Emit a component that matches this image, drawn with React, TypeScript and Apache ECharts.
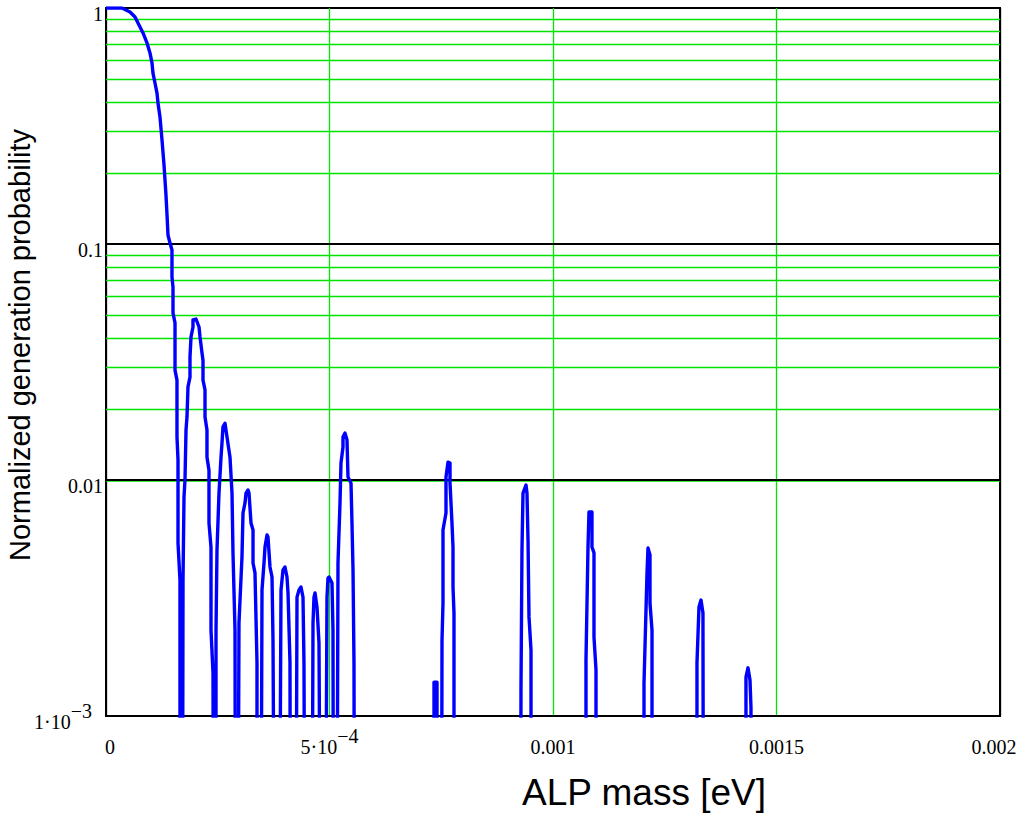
import React, { useEffect, useRef } from 'react';
import * as echarts from 'echarts';

// ALP mass in units of 1e-4 eV, normalized generation probability.
// 1e-5 marks points that fall below the plotted floor (near-zero probability).
const mainLobe: [number, number][] = [
  [0, 1], [0.358, 1], [0.537, 0.962], [0.649, 0.916], [0.761, 0.831], [0.828, 0.784],
  [0.917, 0.711], [0.984, 0.645], [1.029, 0.585], [1.051, 0.53], [1.096, 0.481],
  [1.141, 0.436], [1.163, 0.396], [1.208, 0.345], [1.253, 0.276], [1.298, 0.216],
  [1.342, 0.161], [1.365, 0.133], [1.387, 0.109], [1.432, 0.101], [1.476, 0.0943],
  [1.476, 0.0725], [1.499, 0.0657], [1.499, 0.051], [1.544, 0.0463], [1.544, 0.0292],
  [1.588, 0.0265], [1.588, 0.0152], [1.611, 0.0122], [1.611, 0.0054], [1.655, 0.00377],
  [1.655, 1e-5],
];
const lobe2: [number, number][] = [
  [1.7, 1e-5], [1.723, 0.00377], [1.745, 0.00847], [1.767, 0.01], [1.79, 0.0163],
  [1.812, 0.0185], [1.834, 0.0248], [1.879, 0.0273], [1.879, 0.0332], [1.902, 0.0404],
  [1.946, 0.0445], [1.946, 0.0477], [2.013, 0.0481], [2.081, 0.0445], [2.103, 0.0404],
  [2.148, 0.0345], [2.17, 0.0322], [2.17, 0.0265], [2.215, 0.0241], [2.215, 0.0185],
  [2.259, 0.0163], [2.259, 0.0125], [2.304, 0.011], [2.304, 0.00657], [2.349, 0.0052],
  [2.349, 0.00231], [2.394, 0.00152], [2.416, 1e-5],
];
const lobe3: [number, number][] = [
  [2.461, 1e-5], [2.461, 0.00231], [2.483, 0.00505], [2.528, 0.00881], [2.573, 0.0125],
  [2.595, 0.01435], [2.617, 0.0168], [2.662, 0.0174], [2.707, 0.0152], [2.774, 0.0125],
  [2.819, 0.00881], [2.841, 0.00491], [2.886, 0.00231], [2.908, 1e-5],
];
const lobe4: [number, number][] = [
  [2.931, 1e-5], [2.975, 0.00248], [3.042, 0.00472], [3.065, 0.00725], [3.11, 0.008],
  [3.132, 0.0088], [3.177, 0.00907], [3.199, 0.0088], [3.244, 0.00657], [3.289, 0.00614],
  [3.289, 0.00445], [3.333, 0.00404], [3.378, 0.00168], [3.378, 1e-5],
];
const lobe5: [number, number][] = [
  [3.445, 1e-5], [3.49, 0.00342], [3.535, 0.00445], [3.557, 0.0052], [3.602, 0.00585],
  [3.624, 0.00573], [3.669, 0.00428], [3.714, 0.00388], [3.736, 0.0021], [3.803, 1e-5],
];
const lobe6: [number, number][] = [
  [3.848, 1e-5], [3.915, 0.00342], [3.96, 0.00416], [4.004, 0.00428], [4.049, 0.00388],
  [4.072, 0.00332], [4.116, 0.00168], [4.139, 1e-5],
];
const lobe7: [number, number][] = [
  [4.228, 1e-5], [4.273, 0.00319], [4.318, 0.00342], [4.362, 0.00352], [4.407, 0.00319],
  [4.429, 0.00168], [4.474, 1e-5],
];
const lobe8: [number, number][] = [
  [4.586, 1e-5], [4.631, 0.00248], [4.653, 0.00319], [4.676, 0.00332], [4.72, 0.0029],
  [4.765, 0.00204], [4.832, 1e-5],
];
const lobe9: [number, number][] = [
  [4.877, 1e-5], [4.944, 0.00319], [4.966, 0.00384], [4.989, 0.00388], [5.056, 0.00366],
  [5.078, 0.00231], [5.101, 1e-5],
];
const lobe10: [number, number][] = [
  [5.145, 1e-5], [5.19, 0.00445], [5.235, 0.008], [5.257, 0.0118], [5.302, 0.0138],
  [5.302, 0.0152], [5.347, 0.0158], [5.391, 0.0148], [5.414, 0.0103], [5.481, 0.0097],
  [5.503, 0.00657], [5.526, 0.00416], [5.548, 0.00168], [5.57, 1e-5],
];
const spike: [number, number][] = [
  [7.338, 1e-5], [7.338, 0.00139], [7.405, 0.00139], [7.405, 1e-5],
];
const lobe11: [number, number][] = [
  [7.494, 1e-5], [7.517, 0.0021], [7.539, 0.00301], [7.539, 0.00614], [7.606, 0.00725],
  [7.606, 0.0103], [7.651, 0.0119], [7.696, 0.0118], [7.696, 0.0097], [7.74, 0.00657],
  [7.763, 0.0052], [7.763, 0.00352], [7.785, 0.00273], [7.785, 1e-5],
];
const lobe12: [number, number][] = [
  [9.262, 1e-5], [9.284, 0.00133], [9.306, 0.00505], [9.329, 0.0088], [9.396, 0.00952],
  [9.418, 0.0088], [9.441, 0.00557], [9.463, 0.00263], [9.508, 0.0019], [9.508, 1e-5],
];
const lobe13: [number, number][] = [
  [10.738, 1e-5], [10.738, 0.00173], [10.783, 0.0052], [10.805, 0.00732], [10.872, 0.00732],
  [10.872, 0.0052], [10.917, 0.00491], [10.917, 0.00216], [10.962, 0.00157], [10.962, 1e-5],
];
const lobe14: [number, number][] = [
  [12.036, 1e-5], [12.036, 0.00138], [12.103, 0.00404], [12.125, 0.00515], [12.17, 0.00481],
  [12.17, 0.00301], [12.215, 0.00231], [12.215, 1e-5],
];
const lobe15: [number, number][] = [
  [13.221, 1e-5], [13.221, 0.00168], [13.266, 0.0029], [13.311, 0.0031], [13.355, 0.00273],
  [13.355, 0.00231], [13.378, 1e-5],
];
const lobe16: [number, number][] = [
  [14.317, 1e-5], [14.317, 0.00146], [14.362, 0.0016], [14.407, 0.00142], [14.429, 0.00109],
  [14.429, 1e-5],
];

const xTickValues = [0, 0.0005, 0.001, 0.0015, 0.002];
const xTickText = ['0', '5·10', '0.001', '0.0015', '0.002'];
const xTickExp = ['', '−4', '', '', ''];

const yTickValues = [0.001, 0.01, 0.1, 1];
const yTickText = ['1·10', '0.01', '0.1', '1'];
const yTickExp = ['−3', '', '', ''];

const majorGridValues = [0.01, 0.1];
const minorGridValues = [
  0.002, 0.003, 0.004, 0.005, 0.006, 0.007, 0.008, 0.009,
  0.02, 0.03, 0.04, 0.05, 0.06, 0.07, 0.08, 0.09,
  0.2, 0.3, 0.4, 0.5, 0.6, 0.7, 0.8, 0.9,
];

const xAxisTitle = 'ALP mass [eV]';
const yAxisTitle = 'Normalized generation probability';

const SERIF = '"Liberation Serif", "Times New Roman", serif';
const SANS = '"Liberation Sans", Arial, sans-serif';
const GREEN = '#00e400';

function nearestIndex(values: number[], v: number, log: boolean) {
  let best = 0;
  let bestD = Infinity;
  values.forEach((t, i) => {
    const d = log ? Math.abs(Math.log10(t) - Math.log10(v)) : Math.abs(t - v);
    if (d < bestD) { bestD = d; best = i; }
  });
  return best;
}

export default function App() {
  const ref = useRef<HTMLDivElement>(null);

  useEffect(() => {
    if (!ref.current) return;
    const chart = echarts.init(ref.current, undefined, { renderer: 'svg' });
    const curve = [
      ...mainLobe, ...lobe2, ...lobe3, ...lobe4, ...lobe5, ...lobe6, ...lobe7, ...lobe8,
      ...lobe9, ...lobe10, ...spike, ...lobe11, ...lobe12, ...lobe13, ...lobe14, ...lobe15,
      ...lobe16,
    ].map(([m, p]) => [m * 1e-4, p]);

    const base = { fontFamily: SERIF, fontSize: 20, color: '#000' };
    const richX = {
      a: { ...base, padding: [11, 0, 0, 0] },
      f: { ...base, padding: [11, 0, 0, 8] },
      l: { ...base, padding: [11, 12, 0, 0] },
      s: { ...base, padding: [0, 0, 11, 0] },
    };
    const richY = {
      a: { ...base, padding: [11, 0, 0, 0] },
      s: { ...base, padding: [0, 11, 11, 0] },
    };

    const gridLines = [
      ...minorGridValues.map((v) => ({ yAxis: v, lineStyle: { color: GREEN, width: 1.3, type: 'solid' } })),
      ...majorGridValues.map((v) => ({ yAxis: v, lineStyle: { color: '#000', width: 1.8, type: 'solid' } })),
    ];

    chart.setOption({
      animation: false,
      backgroundColor: '#fff',
      grid: {
        left: 106, right: 36, top: 8, bottom: 98,
        show: true, borderColor: '#000', borderWidth: 2,
        outerBoundsMode: 'none',
      },
      xAxis: {
        type: 'value', min: 0, max: 0.002, interval: 0.0005,
        axisLine: { show: true, onZero: false, lineStyle: { color: '#000', width: 2 } },
        axisTick: { show: false },
        splitLine: {
          show: true,
          lineStyle: { color: ['#000', GREEN, GREEN, GREEN, '#000'], width: 1.3 },
        },
        axisLabel: {
          margin: 10,
          rich: richX,
          formatter: (v: number) => {
            const i = nearestIndex(xTickValues, v, false);
            const key = i === 0 ? 'f' : i === xTickValues.length - 1 ? 'l' : 'a';
            return xTickExp[i] ? `{a|${xTickText[i]}}{s|${xTickExp[i]}}` : `{${key}|${xTickText[i]}}`;
          },
        },
      },
      yAxis: {
        type: 'log', logBase: 10, min: 0.001, max: 1,
        axisLine: { show: true, lineStyle: { color: '#000', width: 2 } },
        axisTick: { show: false },
        splitLine: { show: false },
        axisLabel: {
          margin: 3,
          rich: richY,
          formatter: (v: number) => {
            const i = nearestIndex(yTickValues, v, true);
            return yTickExp[i] ? `{a|${yTickText[i]}}{s|${yTickExp[i]}}` : `{a|${yTickText[i]}}`;
          },
        },
      },
      graphic: [
        {
          type: 'text', x: 644, y: 792,
          style: { text: xAxisTitle, fontFamily: SANS, fontSize: 37, fill: '#000', align: 'center', verticalAlign: 'middle' },
        },
        {
          type: 'text', x: 20, y: 345, rotation: Math.PI / 2,
          style: { text: yAxisTitle, fontFamily: SANS, fontSize: 29, fill: '#000', align: 'center', verticalAlign: 'middle' },
        },
      ],
      series: [
        {
          type: 'line', data: [], z: 1, silent: true,
          markLine: {
            silent: true, symbol: ['none', 'none'], animation: false,
            label: { show: false },
            emphasis: { disabled: true },
            data: gridLines,
          },
        },
        {
          type: 'line', data: curve, z: 5, showSymbol: false, clip: true,
          lineStyle: { color: '#0000ff', width: 3.4, join: 'round' },
        },
      ],
    });
    return () => chart.dispose();
  }, []);

  return (
    <div
      ref={ref}
      style={{ position: 'absolute', left: 0, top: 0, width: 1036, height: 814, background: '#fff' }}
    />
  );
}
